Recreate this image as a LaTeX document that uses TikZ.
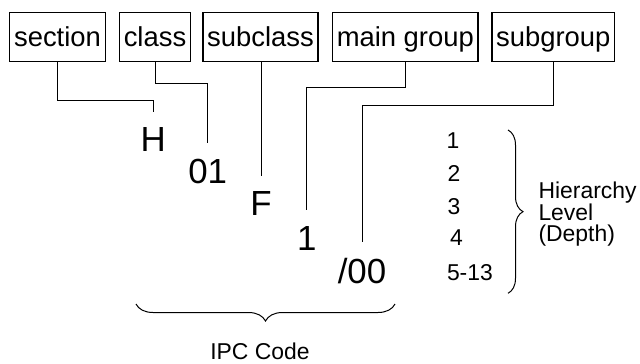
\documentclass[tikz,border=0pt]{standalone}
\usepackage{fontspec}
\setmainfont{Liberation Sans}
\usetikzlibrary{decorations.pathreplacing}
\begin{document}
\begin{tikzpicture}[x=1bp,y=-1bp,
  field/.style={draw, line width=1.2bp, anchor=base, outer sep=0pt,
    inner xsep=4.2bp, inner ysep=0pt, text height=34bp, text depth=15bp,
    font=\fontsize{27.5}{30}\selectfont},
  codepart/.style={anchor=base, inner xsep=0pt, inner ysep=16bp,
    outer sep=0pt, font=\fontsize{35}{40}\selectfont},
  small/.style={anchor=base west, inner sep=0pt, font=\fontsize{23}{26}\selectfont},
  link/.style={line width=1bp},
  curly/.style={decorate, decoration={brace, amplitude=#1}, line width=1bp}
]
\useasboundingbox (0,0) rectangle (640,363);

% classification fields
\node[field] (sec) at (57.5,46.7)  {section};
\node[field] (cls) at (155,46.7)   {class};
\node[field] (scl) at (260.5,46.7) {subclass};
\node[field] (mgr) at (405.3,46.7) {main group};
\node[field] (sgr) at (553.3,46.7) {subgroup};

% parts of the code symbol
\node[codepart] (h)   at (153.3,151.7) {H};
\node[codepart] (c01) at (207.7,183.3) {01};
\node[codepart] (f)   at (261,215.7)   {F};
\node[codepart] (one) at (306.7,250)   {1};
\node[codepart] (sub) at (362,283.5)   {/00};

% field-to-part connectors
\draw[link] (sec.south) -- ++(0,39)   -| (h.north);
\draw[link] (cls.south) -- ++(0,21.6) -| (c01.north);
\draw[link] (f.north |- scl.south) -- (f.north);
\draw[link] (mgr.south) -- ++(0,25.6) -| (one.north);
\draw[link] (sgr.south) -- ++(0,43.3) -| (sub.north);

% hierarchy levels
\node[small] (l1) at (446.3,148.8) {1};
\node[small] (l2) at (447.3,181.7) {2};
\node[small] (l3) at (447.3,214.3) {3};
\node[small] (l4) at (450,245.5)   {4};
\node[small] (l5) at (446.8,280.5) {5-13};

\coordinate (rtop) at (508,130);
\coordinate (rbot) at (508,293.3);
\draw[curly=15bp] (rtop) -- (rbot);

\node[small] (hier) at (538.3,198.3) {Hierarchy};
\node[small] (lev)  at (538.3,220)   {Level};
\node[small] (dep)  at (538.3,241.5) {(Depth)};

% brace under the code
\coordinate (bright) at (395,304);
\coordinate (bleft)  at (136,304);
\draw[curly=17bp] (bright) -- (bleft);
\node[small, anchor=base] (ipc) at (260,359.8) {IPC Code};
\end{tikzpicture}
\end{document}
